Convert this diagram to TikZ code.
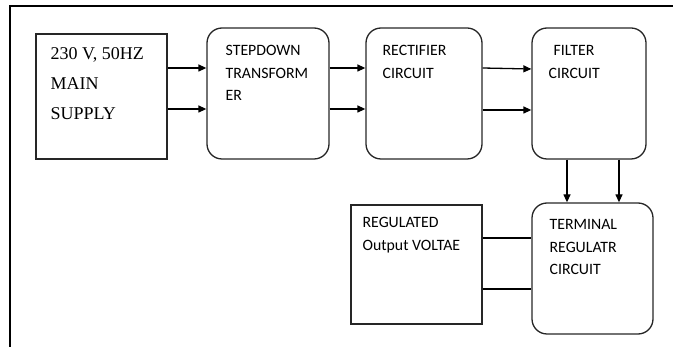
\documentclass[tikz,border=0pt]{standalone}
\usepackage{fontspec}
\setmainfont{Liberation Serif}
\newfontfamily\calib{Carlito}
\usetikzlibrary{arrows.meta}

\begin{document}
\begin{tikzpicture}[x=1pt,y=-1pt,line width=1.3pt,
  sqbox/.style={draw=black!85,rectangle,inner sep=0},
  rbox/.style={draw=black!85,rounded corners=15pt,inner sep=0},
  lbl/.style={anchor=north west,inner sep=0,align=left,font=\calib\fontsize{15.8}{22.5}\selectfont},
  flow/.style={-{Triangle[length=8pt,width=7pt]}}]
  \useasboundingbox (0,0) rectangle (673,347);
  \draw[line width=1.5pt] (10,347) -- (10,6) -- (673,6);

  \node[sqbox,minimum width=131pt,minimum height=125pt] (main) at (101.5,96.5) {};
  \node[rbox,minimum width=122pt,minimum height=131pt] (step) at (268,93.5) {};
  \node[rbox,minimum width=116pt,minimum height=131pt] (rect) at (424,93.5) {};
  \node[rbox,minimum width=114pt,minimum height=131pt] (filt) at (589,93.5) {};
  \node[rbox,minimum width=121pt,minimum height=131pt] (term) at (592.5,268.5) {};
  \node[sqbox,minimum width=131pt,minimum height=119pt] (reg) at (416.5,264.5) {};

  \node[anchor=north west,inner sep=0,align=left,font=\fontsize{18}{30}\selectfont] (mainlbl) at (50,46.5) {230 V, 50HZ\\MAIN\\SUPPLY};
  \node[lbl] (steplbl) at (225,45) {STEPDOWN\\TRANSFORM\\ER};
  \node[lbl] (rectlbl) at (382,45) {RECTIFIER\\CIRCUIT};
  \node[lbl] (filtlbl) at (548,45) {\hspace*{5pt}FILTER\\CIRCUIT};
  \node[lbl] (termlbl) at (549,219) {TERMINAL\\REGULATR\\CIRCUIT};
  \node[lbl] (reglbl) at (362,217) {REGULATED\\Output VOLTAE};

  \draw[flow] (main.east |- 0,68) -- (step.west |- 0,68);
  \draw[flow] (main.east |- 0,109) -- (step.west |- 0,109);
  \draw[flow] (step.east |- 0,68) -- (rect.west |- 0,68);
  \draw[flow] (step.east |- 0,109) -- (rect.west |- 0,109);
  \draw[flow] (rect.east |- 0,68) -- (filt.west |- 0,69);
  \draw[flow] (rect.east |- 0,110) -- (filt.west |- 0,110);
  \draw[flow] (filt.south -| 567,0) -- (term.north -| 567,0);
  \draw[flow] (filt.south -| 619,0) -- (term.north -| 619,0);
  \draw (reg.east |- 0,238) -- (term.west |- 0,238);
  \draw (reg.east |- 0,289) -- (term.west |- 0,289);
\end{tikzpicture}
\end{document}
